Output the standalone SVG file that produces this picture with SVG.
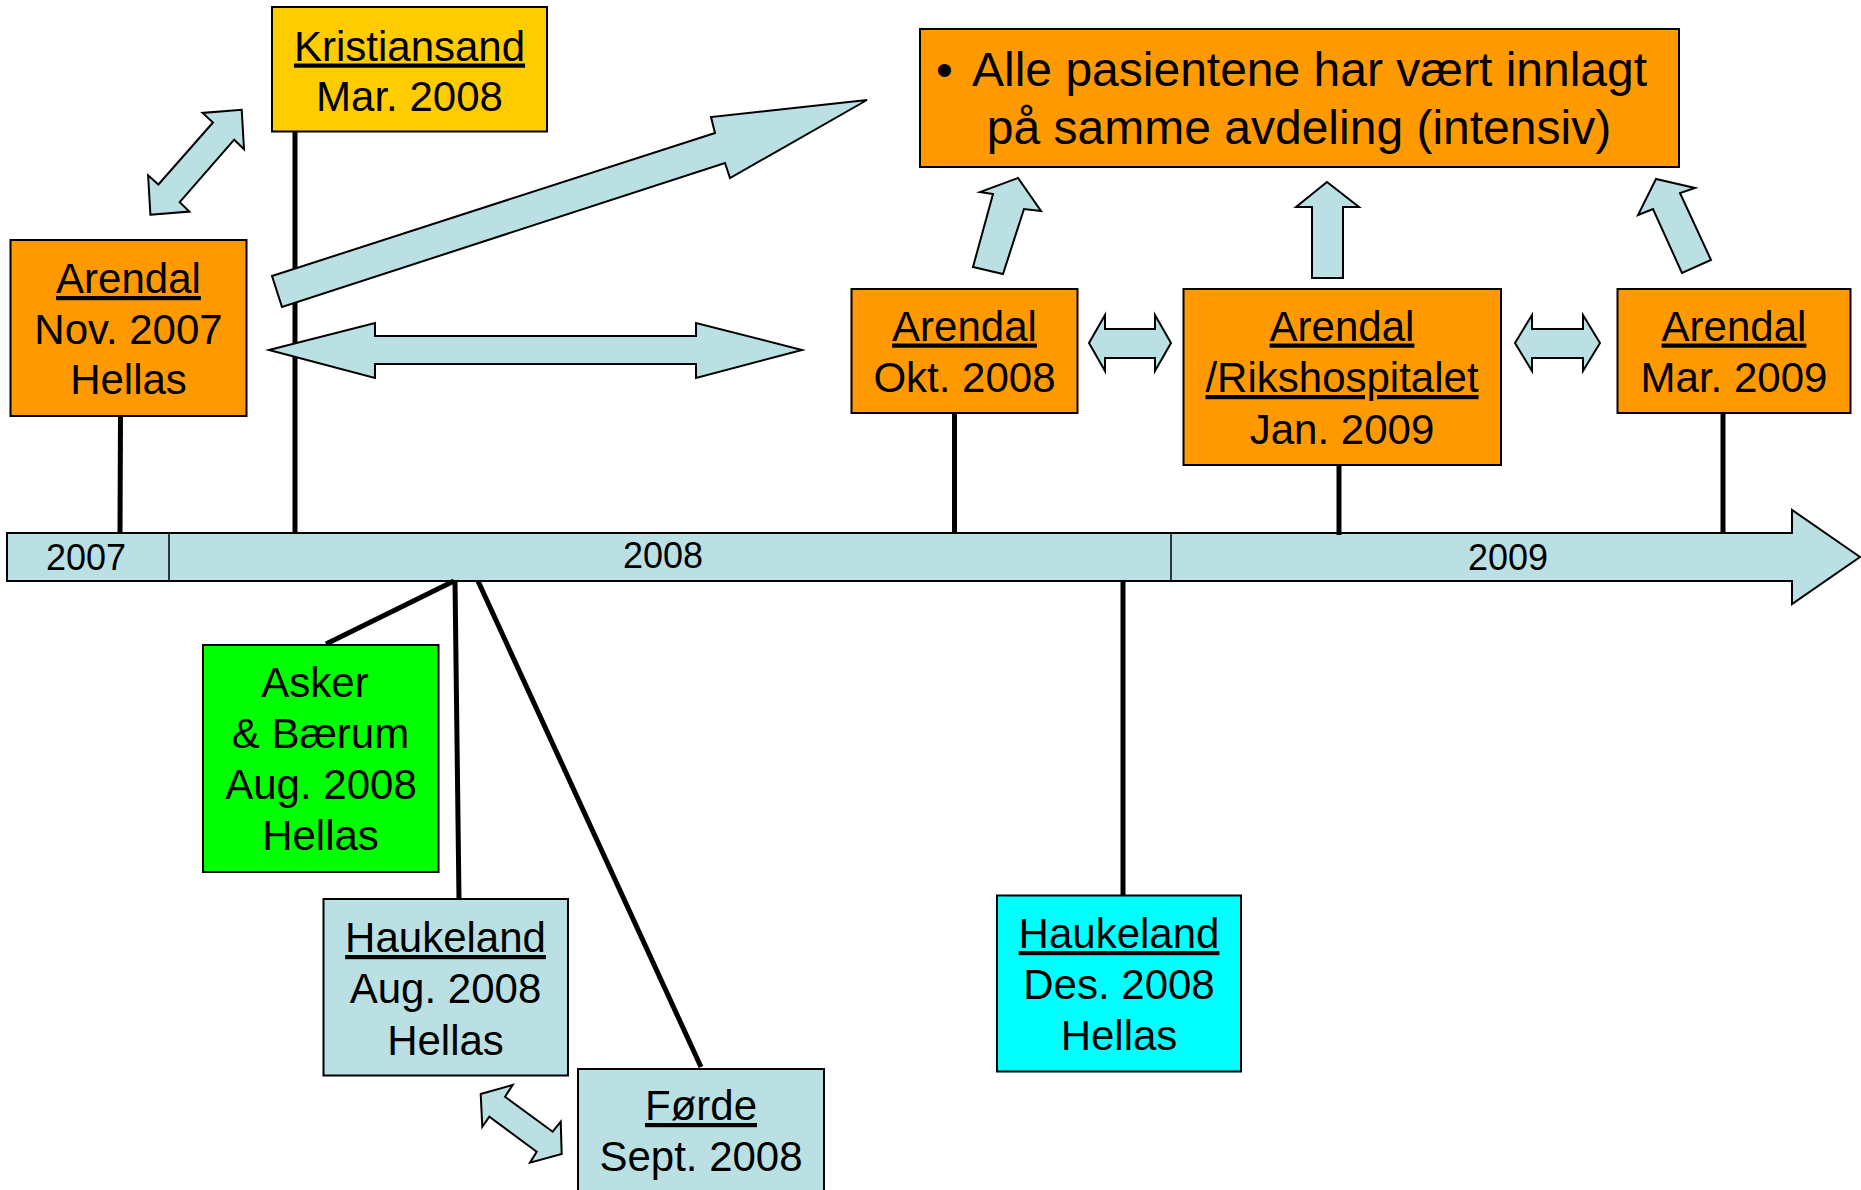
<svg xmlns="http://www.w3.org/2000/svg" width="1861" height="1190" viewBox="0 0 1861 1190">
<style>
.box{stroke:#000;stroke-width:2}
.or{fill:#FF9900}
.ye{fill:#FFCC00}
.gr{fill:#00FF00}
.cy{fill:#00FFFF}
.lb{fill:#BBE0E3}
.arr{fill:#BBE0E3;stroke:#000;stroke-width:2;stroke-linejoin:miter}
.ln{stroke:#000;stroke-width:5;fill:none}
.t{font-family:"Liberation Sans",Arial,sans-serif;font-size:42px;fill:#000;text-anchor:middle}
.u{text-decoration:underline;text-decoration-thickness:3.5px}
.yr{font-family:"Liberation Sans",Arial,sans-serif;font-size:36px;fill:#000;text-anchor:middle}
.big{font-family:"Liberation Sans",Arial,sans-serif;font-size:48px;fill:#000}
</style>
<rect width="1861" height="1190" fill="#fff"/>

<g id="timeline">
<path class="arr" d="M7,533 H1792 V510 L1860,557 L1792,604 V581 H7 Z"/>
<line x1="169" y1="533" x2="169" y2="581" stroke="#000" stroke-width="1.5"/>
<line x1="1171" y1="533" x2="1171" y2="581" stroke="#000" stroke-width="1.5"/>
<text class="yr" x="86" y="570">2007</text>
<text class="yr" x="663" y="568">2008</text>
<text class="yr" x="1508" y="570">2009</text>
</g>

<g id="connectors">
<line class="ln" x1="120.5" y1="416" x2="120" y2="533"/>
<line class="ln" x1="295" y1="131" x2="295" y2="533"/>
<line class="ln" x1="954.5" y1="413" x2="954.5" y2="533"/>
<line class="ln" x1="1339" y1="465" x2="1339" y2="535"/>
<line class="ln" x1="1723" y1="413" x2="1723" y2="533"/>
<line class="ln" x1="454" y1="581" x2="326" y2="644"/>
<line class="ln" x1="455" y1="581" x2="459" y2="899"/>
<line class="ln" x1="478" y1="581" x2="701" y2="1067"/>
<line class="ln" x1="1123" y1="581" x2="1123" y2="895"/>
<polygon class="arr" points="150.4,214.7 189.4,211.6 179.7,202.1 234.2,139.7 244,149.3 241.7,109.8 202.6,112.9 213,122.5 158.4,184.5 148.1,175.3"/>
<polygon class="arr" points="272,276 715,133 711,117 867,100 730,178 725,163 282,307"/>
<polygon class="arr" points="269,350 375,323 375,336 696,336 696,323 802,350 696,378 696,364 375,364 375,378"/>
<polygon class="arr" points="973,267 993,194 980,192 1018,178 1041,211 1024,209 1003,274"/>
<polygon class="arr" points="1312,278 1312,207 1296,207 1327,182 1359,207 1343,207 1343,278"/>
<polygon class="arr" points="1682,273 1653,209 1638,215 1656,179 1695,188 1680,193 1711,260"/>
<polygon class="arr" points="1089,343 1105,315 1105,329 1155,329 1155,315 1171,343 1155,371 1155,358 1105,358 1105,371"/>
<polygon class="arr" points="1515,343 1532,315 1532,329 1583,329 1583,315 1600,343 1583,371 1583,358 1532,358 1532,371"/>
<polygon class="arr" points="480.7,1094 512.7,1085 505,1096.7 552.7,1131.7 560.7,1121.7 561.7,1154 530,1162.7 536.7,1151.7 489.3,1116.7 482.3,1126.7"/>
</g>

<g id="summary">
<rect class="box or" x="920" y="29" width="759" height="138"/>
<text class="big" x="936" y="86">•</text>
<text class="big" x="972" y="86">Alle pasientene har vært innlagt</text>
<text class="big" x="1299" y="143.5" text-anchor="middle">på samme avdeling (intensiv)</text>
</g>

<g id="kristiansand">
<rect class="box ye" x="272" y="7" width="275" height="124.5"/>
<text class="t u" x="409.5" y="60.5">Kristiansand</text>
<text class="t" x="409.5" y="111">Mar. 2008</text>
</g>

<g id="arendal-nov2007">
<rect class="box or" x="10.5" y="240" width="236" height="176"/>
<text class="t u" x="128.5" y="293">Arendal</text>
<text class="t" x="128.5" y="343.5">Nov. 2007</text>
<text class="t" x="128.5" y="394">Hellas</text>
</g>

<g id="arendal-okt2008">
<rect class="box or" x="851.5" y="289" width="226" height="124"/>
<text class="t u" x="964.5" y="340.5">Arendal</text>
<text class="t" x="964.5" y="392">Okt. 2008</text>
</g>

<g id="arendal-rikshospitalet">
<rect class="box or" x="1183.5" y="289" width="317.5" height="176"/>
<text class="t u" x="1342" y="340.5">Arendal</text>
<text class="t u" x="1342" y="392">/Rikshospitalet</text>
<text class="t" x="1342" y="444">Jan. 2009</text>
</g>

<g id="arendal-mar2009">
<rect class="box or" x="1617.5" y="289" width="233" height="124"/>
<text class="t u" x="1734" y="340.5">Arendal</text>
<text class="t" x="1734" y="392">Mar. 2009</text>
</g>

<g id="asker-baerum">
<rect class="box gr" x="203" y="645" width="235.5" height="227"/>
<text class="t" x="315" y="697">Asker</text>
<text class="t" x="320.5" y="748">&amp; Bærum</text>
<text class="t" x="321" y="799">Aug. 2008</text>
<text class="t" x="320.5" y="850">Hellas</text>
</g>

<g id="haukeland-aug2008">
<rect class="box lb" x="323.5" y="899" width="244.5" height="176.5"/>
<text class="t u" x="445.5" y="952">Haukeland</text>
<text class="t" x="445.5" y="1003">Aug. 2008</text>
<text class="t" x="445.5" y="1055">Hellas</text>
</g>

<g id="forde">
<rect class="box lb" x="578" y="1069" width="246" height="140"/>
<text class="t u" x="701" y="1120">Førde</text>
<text class="t" x="701" y="1171">Sept. 2008</text>
</g>

<g id="haukeland-des2008">
<rect class="box cy" x="997" y="895.5" width="244" height="176"/>
<text class="t u" x="1119" y="948">Haukeland</text>
<text class="t" x="1119" y="999">Des. 2008</text>
<text class="t" x="1119" y="1050">Hellas</text>
</g>
</svg>
